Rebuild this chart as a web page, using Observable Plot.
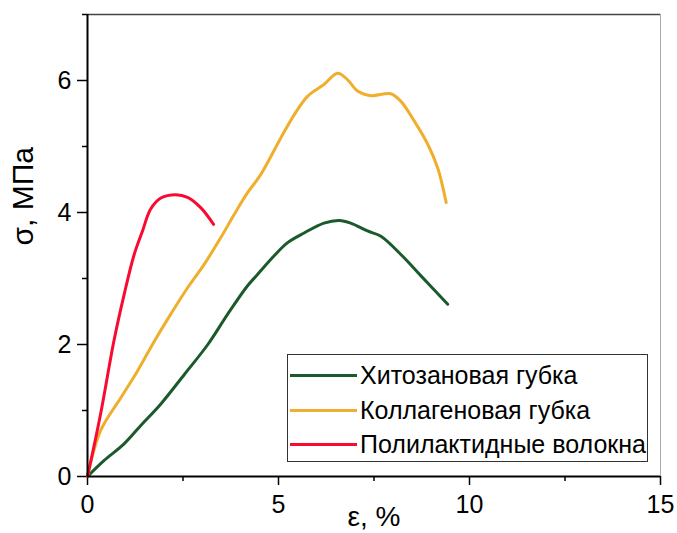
<!DOCTYPE html>
<html>
<head>
<meta charset="utf-8">
<script src="https://cdn.jsdelivr.net/npm/d3@7"></script>
<script src="https://cdn.jsdelivr.net/npm/@observablehq/plot@0.6"></script>
<style>
  html, body { margin: 0; padding: 0; background: #fff; }
  #wrap { position: relative; width: 677px; height: 533px; font-family: "Liberation Sans", Arial, sans-serif; }
  #legend { position: absolute; left: 287px; top: 354px; width: 361px; height: 108px; border: 1px solid #333; background: #fff; box-sizing: border-box; }
  .row { position: absolute; left: 0; height: 30px; display: flex; align-items: center; }
  .sw { width: 67px; height: 3px; margin-left: 2px; margin-right: 3px; }
  .lab { font-size: 25px; color: #000; white-space: nowrap; }
</style>
</head>
<body>
<div id="wrap"></div>
<script>
// ---- data ----
const seriesNames = ["Хитозановая губка", "Коллагеновая губка", "Полилактидные волокна"];
const seriesColors = ["#1b5a2b", "#f0ae2d", "#f90a30"];

const chitosanX = [0, 0.43, 0.95, 1.39, 1.92, 2.54, 3.15, 3.67, 4.19, 4.45, 4.88, 5.23, 5.67, 6.19, 6.59, 6.89, 7.33, 7.68, 8.21, 8.73, 9.43];
const chitosanY = [0, 0.24, 0.49, 0.77, 1.10, 1.55, 2.00, 2.46, 2.89, 3.06, 3.34, 3.54, 3.69, 3.84, 3.88, 3.84, 3.72, 3.64, 3.36, 3.04, 2.61];

const collagenX = [0, 0.34, 0.88, 1.31, 1.75, 2.18, 2.62, 3.05, 3.49, 3.84, 4.19, 4.53, 5.06, 5.41, 5.76, 6.19, 6.55, 6.81, 7.07, 7.42, 7.94, 8.21, 8.56, 8.91, 9.17, 9.39];
const collagenY = [0, 0.69, 1.20, 1.60, 2.05, 2.46, 2.86, 3.21, 3.62, 3.97, 4.30, 4.57, 5.13, 5.48, 5.76, 5.94, 6.11, 6.01, 5.84, 5.77, 5.80, 5.68, 5.38, 5.03, 4.67, 4.15];

const plaX = [0, 0.34, 0.69, 0.96, 1.22, 1.44, 1.65, 1.92, 2.31, 2.62, 2.97, 3.30];
const plaY = [0, 0.94, 2.05, 2.76, 3.36, 3.72, 4.05, 4.22, 4.27, 4.23, 4.07, 3.82];

const xMajorTicks = [0, 5, 10, 15];
const xMinorTicks = [2.5, 7.5, 12.5];
const yMajorTicks = [0, 2, 4, 6];
const yMinorTicks = [1, 3, 5, 7];
const xLabel = "ε, %";
const yLabel = "σ, МПа";

// ---- build table ----
const pairs = [[chitosanX, chitosanY], [collagenX, collagenY], [plaX, plaY]];
const rows = [];
pairs.forEach(([xs, ys], i) => xs.forEach((x, j) => rows.push({series: seriesNames[i], x, y: ys[j]})));

const font = "'Liberation Sans', Arial, sans-serif";
const fmt = d => String(d);

const chart = Plot.plot({
  width: 677,
  height: 533,
  marginLeft: 87,
  marginRight: 17,
  marginTop: 14,
  marginBottom: 57,
  style: {fontFamily: font, fontSize: "25px", color: "#000", background: "#fff", overflow: "visible"},
  x: {domain: [0, 15]},
  y: {domain: [0, 7]},
  color: {domain: seriesNames, range: seriesColors},
  marks: [
    Plot.ruleY([7], {stroke: "#444", strokeWidth: 1.5}),
    Plot.ruleX([15], {stroke: "#aaa", strokeWidth: 1}),
    Plot.axisX({ticks: xMajorTicks, tickSize: 9, tickPadding: 10, fontSize: 25, tickFormat: fmt, label: null, strokeWidth: 1.5}),
    Plot.axisX({ticks: xMinorTicks, tickSize: 5, tickFormat: () => "", label: null, strokeWidth: 1.5}),
    Plot.axisY({ticks: yMajorTicks, tickSize: 10, tickPadding: 6, fontSize: 25, tickFormat: fmt, label: null, strokeWidth: 1.5}),
    Plot.axisY({ticks: yMinorTicks, tickSize: 5, tickFormat: () => "", label: null, strokeWidth: 1.5}),
    Plot.line(rows, {x: "x", y: "y", z: "series", stroke: "series", strokeWidth: 3, curve: "catmull-rom"}),
    Plot.ruleX([0], {stroke: "#000", strokeWidth: 2}),
    Plot.ruleY([0], {stroke: "#000", strokeWidth: 2}),
    Plot.text([xLabel], {frameAnchor: "bottom", dy: 41, fontSize: 28, lineAnchor: "middle"}),
    Plot.text([yLabel], {frameAnchor: "left", dx: -64, rotate: -90, fontSize: 30, lineAnchor: "middle"})
  ]
});

const wrap = document.getElementById("wrap");
wrap.appendChild(chart);

// legend overlay
const legend = document.createElement("div");
legend.id = "legend";
const rowTops = [5, 40, 74];
seriesNames.forEach((name, i) => {
  const r = document.createElement("div");
  r.className = "row";
  r.style.top = rowTops[i] + "px";
  const sw = document.createElement("div");
  sw.className = "sw";
  sw.style.background = seriesColors[i];
  const lab = document.createElement("span");
  lab.className = "lab";
  lab.textContent = name;
  r.appendChild(sw);
  r.appendChild(lab);
  legend.appendChild(r);
});
wrap.appendChild(legend);
</script>
</body>
</html>
